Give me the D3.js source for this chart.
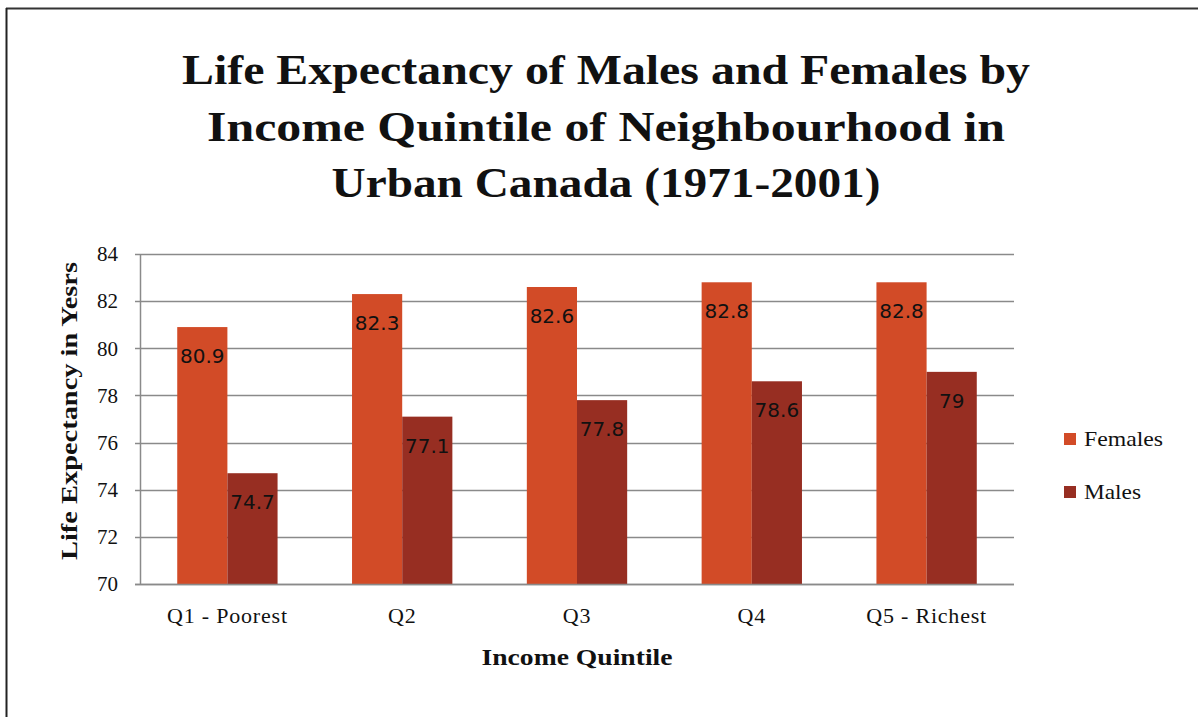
<!DOCTYPE html>
<html>
<head>
<meta charset="utf-8">
<script src="https://cdn.jsdelivr.net/npm/d3@7"></script>
<style>
html,body{margin:0;padding:0;background:#fff;}
svg{display:block;}
</style>
</head>
<body>
<svg id="chart" width="1198" height="717"></svg>
<script>
const categories = ["Q1 - Poorest", "Q2", "Q3", "Q4", "Q5 - Richest"];
const seriesNames = ["Females", "Males"];
const females = [80.9, 82.3, 82.6, 82.8, 82.8];
const males = [74.7, 77.1, 77.8, 78.6, 79];
const yTicks = [70, 72, 74, 76, 78, 80, 82, 84];
const titleLines = ["Life Expectancy of Males and Females by", "Income Quintile of Neighbourhood in", "Urban Canada (1971-2001)"];
const colors = {Females: "#D24B27", Males: "#972E22"};

const svg = d3.select("#chart");
const serif = "'Liberation Serif', 'DejaVu Serif', serif";
const sans = "'DejaVu Sans', 'Liberation Sans', sans-serif";

// fit text to a target width (reference font is wider than the available serif)
function fit(sel, w) {
  sel.each(function() {
    const n = this.getComputedTextLength();
    if (n < w) d3.select(this).attr("textLength", w).attr("lengthAdjust", "spacingAndGlyphs");
  });
}

// border
svg.append("line").attr("x1", 6).attr("x2", 1198).attr("y1", 8.5).attr("y2", 8.5).attr("stroke", "#333").attr("stroke-width", 2);
svg.append("line").attr("x1", 6.5).attr("x2", 6.5).attr("y1", 8).attr("y2", 717).attr("stroke", "#222").attr("stroke-width", 2);

// title
const titleWidths = [848, 798, 549];
svg.append("g").selectAll("text").data(titleLines).join("text")
  .attr("x", 606).attr("y", (d, i) => 84 + i * 56.5)
  .attr("text-anchor", "middle")
  .attr("font-family", serif).attr("font-weight", "bold").attr("font-size", 42)
  .attr("fill", "#111")
  .text(d => d)
  .each(function(d, i) { fit(d3.select(this), titleWidths[i]); });

const x0 = 140, x1 = 1014, yTop = 254, yBot = 584;
const x = d3.scaleBand().domain(categories).range([x0, x1]).paddingInner(0.426).paddingOuter(0.213);
const xs = d3.scaleBand().domain(seriesNames).range([0, x.bandwidth()]);
const y = d3.scaleLinear().domain([70, 84]).range([yBot, yTop]);

// gridlines
svg.append("g").selectAll("line").data(yTicks).join("line")
  .attr("x1", x0 - 5).attr("x2", x1).attr("y1", d => Math.round(y(d)) + 0.5).attr("y2", d => Math.round(y(d)) + 0.5)
  .attr("stroke", "#8a8a8a").attr("stroke-width", 1.5);

// y axis line
svg.append("line").attr("x1", x0 + 0.5).attr("x2", x0 + 0.5).attr("y1", yTop).attr("y2", yBot)
  .attr("stroke", "#8a8a8a").attr("stroke-width", 1.5);

// y tick labels
svg.append("g").selectAll("text").data(yTicks).join("text")
  .attr("x", 118).attr("y", d => y(d)).attr("dy", "0.35em")
  .attr("text-anchor", "end")
  .attr("font-family", serif).attr("font-size", 21).attr("fill", "#111")
  .text(d => d);

// bars
const data = categories.map((c, i) => ({cat: c, values: [{s: "Females", v: females[i]}, {s: "Males", v: males[i]}]}));
const groups = svg.append("g").selectAll("g").data(data).join("g")
  .attr("transform", d => `translate(${x(d.cat)},0)`);
groups.selectAll("rect").data(d => d.values).join("rect")
  .attr("x", d => xs(d.s)).attr("width", xs.bandwidth())
  .attr("y", d => y(d.v)).attr("height", d => y(70) - y(d.v))
  .attr("fill", d => colors[d.s]);
groups.selectAll("text").data(d => d.values).join("text")
  .attr("x", d => xs(d.s) + xs.bandwidth() / 2)
  .attr("y", d => y(d.v) + 29).attr("dy", "0.35em")
  .attr("text-anchor", "middle")
  .attr("font-family", sans).attr("font-size", 20).attr("fill", "#111")
  .text(d => d.v);

// x axis line
svg.append("line").attr("x1", x0 - 5).attr("x2", x1).attr("y1", yBot + 0.5).attr("y2", yBot + 0.5)
  .attr("stroke", "#8a8a8a").attr("stroke-width", 1.5);

// x tick labels
svg.append("g").selectAll("text").data(categories).join("text")
  .attr("x", d => x(d) + x.bandwidth() / 2).attr("y", 623)
  .attr("text-anchor", "middle")
  .attr("font-family", serif).attr("font-size", 22).attr("fill", "#111")
  .attr("letter-spacing", 0.8)
  .text(d => d);

// axis titles
svg.append("text").attr("x", 577).attr("y", 665).attr("text-anchor", "middle")
  .attr("font-family", serif).attr("font-weight", "bold").attr("font-size", 23).attr("fill", "#111")
  .text("Income Quintile").call(fit, 191);
svg.append("text").attr("transform", "translate(77,411) rotate(-90)").attr("text-anchor", "middle")
  .attr("font-family", serif).attr("font-weight", "bold").attr("font-size", 23).attr("fill", "#111")
  .text("Life Expectancy in Yesrs").call(fit, 298);

// legend
const legendWidths = [79, 57];
const legend = svg.append("g").selectAll("g").data(seriesNames).join("g")
  .attr("transform", (d, i) => `translate(1064,${433 + i * 53})`);
legend.append("rect").attr("width", 12).attr("height", 12).attr("fill", d => colors[d]);
legend.append("text").attr("x", 20).attr("y", 6).attr("dy", "0.35em")
  .attr("font-family", serif).attr("font-size", 21).attr("fill", "#111")
  .text(d => d)
  .each(function(d, i) { fit(d3.select(this), legendWidths[i]); });
</script>
</body>
</html>
